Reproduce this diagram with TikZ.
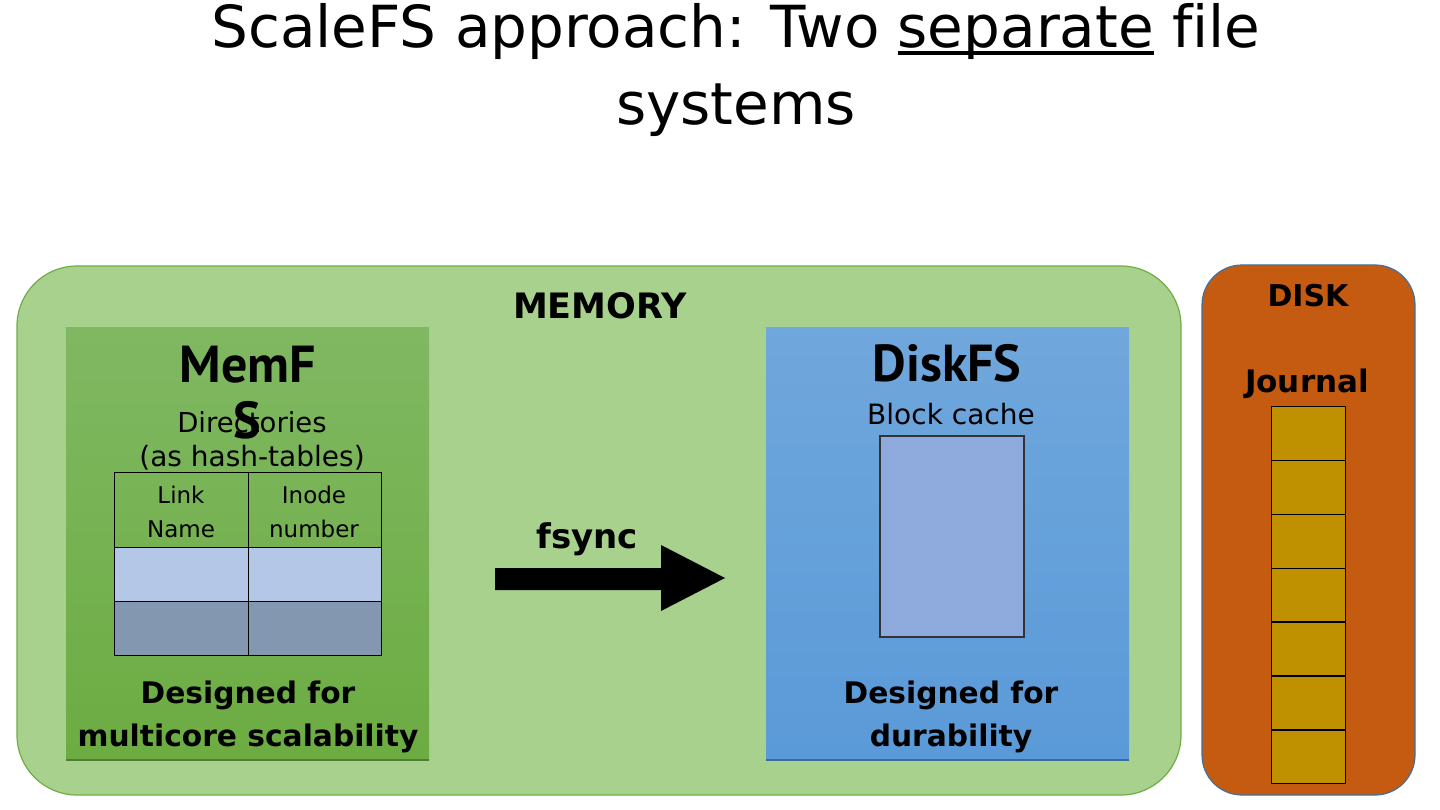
\documentclass[tikz,border=0pt]{standalone}
\usepackage{fontspec}
\setmainfont[Ligatures=NoCommon]{DejaVu Sans}
\newfontfamily\ptsans{PT Sans}
\definecolor{memfill}{HTML}{A9D18E}
\definecolor{memdraw}{HTML}{70AD47}
\definecolor{mfstop}{HTML}{80B862}
\definecolor{mfsbot}{HTML}{6CAC42}
\definecolor{mfsline}{HTML}{4E7E30}
\definecolor{dfstop}{HTML}{70A7DC}
\definecolor{dfsbot}{HTML}{5A9AD8}
\definecolor{dfsline}{HTML}{3A6A98}
\definecolor{cachefill}{HTML}{8FAADC}
\definecolor{rowlight}{HTML}{B4C7E7}
\definecolor{rowdark}{HTML}{8497B0}
\definecolor{diskfill}{HTML}{C55A11}
\definecolor{diskdraw}{HTML}{41719C}
\definecolor{jfill}{HTML}{BF9000}
\newcommand\myul[1]{\setbox0\hbox{#1}\rlap{\rule[-7pt]{\wd0}{3.5pt}}\box0\relax}
\tikzset{
  txt/.style={inner sep=0pt, anchor=base},
  cellbox/.style={draw=black, line width=1.4pt, inner sep=0pt, anchor=north west},
}
\begin{document}
\begin{tikzpicture}[x=1pt,y=-1pt]
\useasboundingbox[fill=white] (0,0) rectangle (1440,810);
% title
\node[txt, font=\fontsize{58}{62}\selectfont] (t1) at (736,48) {ScaleFS approach: Two \myul{separate} file};
\node[txt, font=\fontsize{58}{62}\selectfont] (t2) at (736,125) {systems};
% memory
\node[draw=memdraw, line width=1.2pt, fill=memfill, rounded corners=60pt, minimum width=1164pt, minimum height=529pt, inner sep=0pt] (mem) at (599,530.5) {};
\node[txt, font=\bfseries\fontsize{35}{40}\selectfont] (memlbl) at (600,319) {MEMORY};
% memfs
\node[top color=mfstop, bottom color=mfsbot, minimum width=363pt, minimum height=433pt, inner sep=0pt] (memfs) at (247.5,543.5) {};
\draw[mfsline, line width=2pt] (memfs.south west) -- (memfs.south east);
\node[txt, font=\ptsans\bfseries\fontsize{52}{56}\selectfont] (memfsA) at (248,382) {MemF};
\node[txt, font=\ptsans\bfseries\fontsize{52}{56}\selectfont] (memfsB) at (247,438) {S};
\node[txt, font=\fontsize{27.5}{32}\selectfont] (dir1) at (252,432) {Directories};
\node[txt, font=\fontsize{28}{32}\selectfont] (dir2) at (252,466) {(as hash-tables)};
% table
\node[cellbox, minimum width=134pt, minimum height=75pt] (c11) at (114,472) {};
\node[cellbox, minimum width=133pt, minimum height=75pt] (c12) at (248,472) {};
\node[cellbox, fill=rowlight, minimum width=134pt, minimum height=54pt] (c21) at (114,547) {};
\node[cellbox, fill=rowlight, minimum width=133pt, minimum height=54pt] (c22) at (248,547) {};
\node[cellbox, fill=rowdark, minimum width=134pt, minimum height=54pt] (c31) at (114,601) {};
\node[cellbox, fill=rowdark, minimum width=133pt, minimum height=54pt] (c32) at (248,601) {};
\node[txt, font=\fontsize{23}{26}\selectfont] (ln1) at (181,503) {Link};
\node[txt, font=\fontsize{23}{26}\selectfont] (ln2) at (181,537) {Name};
\node[txt, font=\fontsize{23}{26}\selectfont] (in1) at (314,503) {Inode};
\node[txt, font=\fontsize{23}{26}\selectfont] (in2) at (314,537) {number};
\node[txt, font=\bfseries\fontsize{29.7}{34}\selectfont] (mdes1) at (248,703) {Designed for};
\node[txt, font=\bfseries\fontsize{29.7}{34}\selectfont] (mdes2) at (248,746) {multicore scalability};
% fsync arrow
\node[txt, font=\bfseries\fontsize{34}{38}\selectfont] (fsync) at (587,548) {fsync};
\fill[black] (495,568) -- (661,568) -- (661,545) -- (725,578) -- (661,611) -- (661,590) -- (495,590) -- cycle;
% diskfs
\node[top color=dfstop, bottom color=dfsbot, minimum width=363pt, minimum height=433pt, inner sep=0pt] (diskfs) at (947.5,543.5) {};
\draw[dfsline, line width=2pt] (diskfs.south west) -- (diskfs.south east);
\node[txt, font=\ptsans\bfseries\fontsize{52}{56}\selectfont] (dfsA) at (947,381) {DiskFS};
\node[txt, font=\fontsize{28}{32}\selectfont] (bc) at (951,424) {Block cache};
\node[draw=black!80, line width=1.2pt, fill=cachefill, minimum width=144pt, minimum height=201pt, inner sep=0pt] (cache) at (952,536.5) {};
\node[txt, font=\bfseries\fontsize{29.7}{34}\selectfont] (ddes1) at (951,703) {Designed for};
\node[txt, font=\bfseries\fontsize{29.7}{34}\selectfont] (ddes2) at (951,746) {durability};
% disk
\node[draw=diskdraw, line width=1.2pt, fill=diskfill, rounded corners=40pt, minimum width=213pt, minimum height=530pt, inner sep=0pt] (disk) at (1308.5,530) {};
\node[txt, font=\bfseries\fontsize{30}{34}\selectfont] (disklbl) at (1308,307) {DISK};
\node[txt, font=\bfseries\fontsize{31}{35}\selectfont] (journal) at (1307,392) {Journal};
\foreach \i in {0,...,6} {
  \node[cellbox, fill=jfill, minimum width=74pt, minimum height=53.86pt] (j\i) at (1271,406+53.86*\i) {};
}
\end{tikzpicture}
\end{document}
